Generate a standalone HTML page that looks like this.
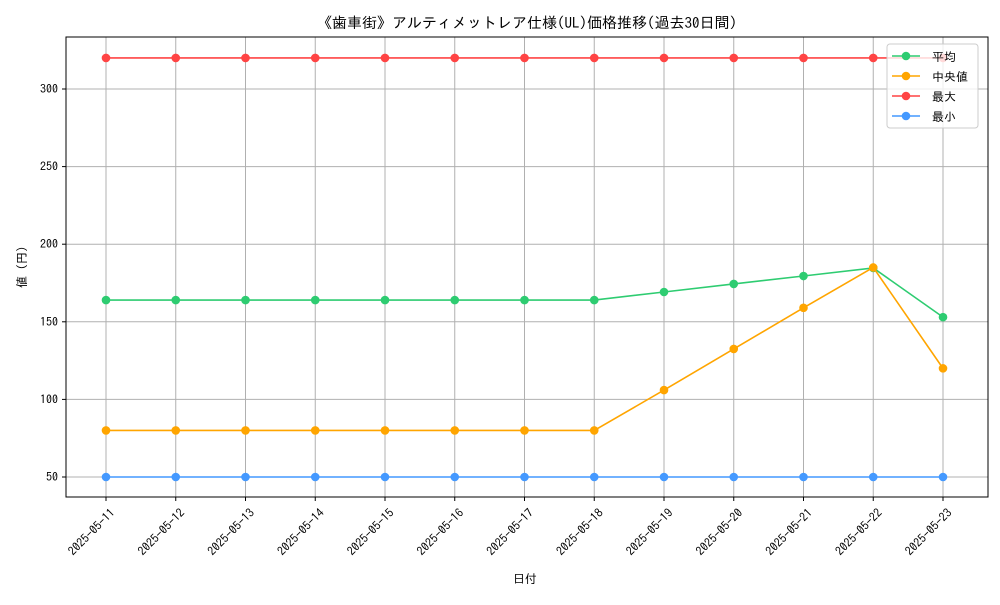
<!DOCTYPE html>
<html><head><meta charset="utf-8"><style>
body{margin:0;background:#fff}
svg text{font-family:"IPAGothic","Noto Sans CJK JP","Liberation Sans",sans-serif;fill:#000}
</style></head><body>
<svg id="c" width="1000" height="600" xmlns="http://www.w3.org/2000/svg">
<rect width="1000" height="600" fill="#fff"/>
<text x="527" y="28" font-size="15" text-anchor="middle">《歯車街》アルティメットレア仕様(UL)価格推移(過去30日間)</text>
<g id="grid"></g><g id="axes"></g><g id="series"></g>
<rect x="66" y="37" width="922" height="460" fill="none" stroke="#000" stroke-width="1"/>
<text x="525" y="583" font-size="12" text-anchor="middle">日付</text>
<text transform="translate(26,267) rotate(-90)" font-size="12" text-anchor="middle">値 (円)</text>
<g id="legend"></g>
</svg>
<script>
const dates=["2025-05-11","2025-05-12","2025-05-13","2025-05-14","2025-05-15","2025-05-16","2025-05-17","2025-05-18","2025-05-19","2025-05-20","2025-05-21","2025-05-22","2025-05-23"];
const avgVals=[164,164,164,164,164,164,164,164,169.2,174.4,179.5,184.7,153];
const medVals=[80,80,80,80,80,80,80,80,106,132.5,159,185,120];
const maxVals=[320,320,320,320,320,320,320,320,320,320,320,320,320];
const minVals=[50,50,50,50,50,50,50,50,50,50,50,50,50];
const yTicks=[50,100,150,200,250,300];
const seriesNames=["平均","中央値","最大","最小"];
const NS="http://www.w3.org/2000/svg";
const xs=i=>106+i*(943-106)/(dates.length-1);
const ys=v=>477-(v-50)*388/250;
function mk(tag,attrs,parent){const e=document.createElementNS(NS,tag);for(const k in attrs)e.setAttribute(k,attrs[k]);parent.appendChild(e);return e;}
const grid=document.getElementById('grid'),axes=document.getElementById('axes'),ser=document.getElementById('series'),leg=document.getElementById('legend');
dates.forEach((d,i)=>{
 const x=xs(i);
 const g=mk('line',{x1:x,x2:x,y1:37,y2:497,stroke:'#b0b0b0','stroke-width':1},grid);
 
 
 const t=mk('line',{x1:x,x2:x,y1:497,y2:501,stroke:'#000'},axes);
 
 
 const l=mk('text',{transform:`translate(${x+4},${508}) rotate(-45)`,'font-size':12,'text-anchor':'end','dominant-baseline':'hanging'},axes);
 l.textContent=d;
 
 
});
yTicks.forEach(v=>{
 const y=ys(v);
 const g=mk('line',{x1:66,x2:988,y1:y,y2:y,stroke:'#b0b0b0','stroke-width':1},grid);
 
 
 const t=mk('line',{x1:62,x2:66,y1:y,y2:y,stroke:'#000'},axes);
 
 
 const l=mk('text',{x:58,y:y+4,'font-size':12,'text-anchor':'end'},axes);
 l.textContent=v;
 
 
});
const all=[[avgVals,'#2ecc71','average'],[medVals,'#ffa500','median'],[maxVals,'#ff4444','max'],[minVals,'#4499ff','min']];
all.forEach(([vals,col,nm])=>{
 const p=mk('polyline',{points:vals.map((v,i)=>xs(i)+','+ys(v)).join(' '),fill:'none',stroke:col,'stroke-width':1.6},ser);
 
 
 vals.forEach((v,i)=>{
  const c=mk('circle',{cx:xs(i),cy:ys(v),r:4.3,fill:col},ser);
  
  
 });
});
const lb=mk('rect',{x:887,y:44,width:91,height:84,rx:3,fill:'#fff','fill-opacity':0.8,stroke:'#ccc'},leg);


all.forEach(([v,col,nm],i)=>{
 const y=56+i*20;
 const g=mk('g',{},leg);
 
 
 mk('line',{x1:892,x2:920,y1:y,y2:y,stroke:col,'stroke-width':1.6},g);
 mk('circle',{cx:906,cy:y,r:4.3,fill:col},g);
 const t=mk('text',{x:932,y:y+5,'font-size':12},g);
 t.textContent=seriesNames[i];
});
</script>
</body></html>
